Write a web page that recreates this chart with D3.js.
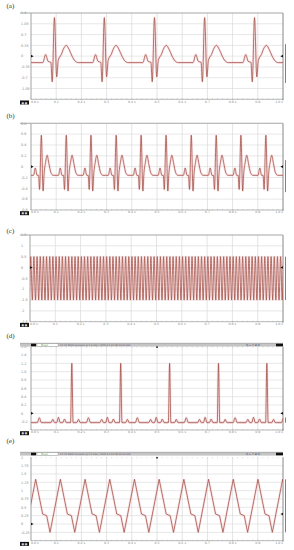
<!DOCTYPE html>
<html>
<head>
<meta charset="utf-8">
<script src="https://cdn.jsdelivr.net/npm/d3@7.9.0/dist/d3.min.js"></script>
<style>
  html, body { margin: 0; padding: 0; background: #fff; }
  svg { display: block; }
</style>
</head>
<body>
<svg id="chart" width="294" height="550"></svg>
<script>
// DATA (time in grid divisions, 0..10 across the screen)
const xLabels = ['0.0 s', '0.1', '0.2 s', '0.3', '0.4 s', '0.5', '0.6 s', '0.7', '0.8 s', '0.9', '1.0 s'];

// (a)
const aYTicks = ['1.4', '1.05', '0.7', '0.35', '0', '-0.35', '-0.7', '-1.05'];
const aBeats = [0.93, 2.91, 4.9, 6.89, 8.87];
const aBase = -0.21;
const aShape = [
  [-0.46, -0.21], [-0.35, 0.05], [-0.25, -0.17], [-0.14, -0.2],
  [-0.09, -0.83], [0, 1.25], [0.09, -0.67], [0.15, -0.14],
  [0.27, 0.05], [0.38, 0.27], [0.47, 0.35], [0.58, 0.22],
  [0.7, 0.0], [0.82, -0.16], [0.95, -0.21]
];

// (b)
const bYTicks = ['0.8', '0.6', '0.4', '0.2', '0', '-0.2', '-0.4', '-0.6', '-0.8'];
const bBeats = [0.41, 1.4, 2.38, 3.38, 4.37, 5.36, 6.36, 7.35, 8.33, 9.32];
const bBase = -0.16;
const bShape = [
  [-0.31, -0.16], [-0.24, -0.025], [-0.17, -0.16], [-0.11, -0.16],
  [-0.07, -0.42], [0, 0.58], [0.07, -0.45], [0.11, -0.13],
  [0.17, 0.08], [0.23, 0.21], [0.3, 0.06], [0.38, -0.11], [0.47, -0.16]
];

// (c)
const cYTicks = ['1.5', '1', '0.5', '0', '-0.5', '-1', '-1.5', '-2', '-2.5'];
const cPeaks = [-0.095,
  0.03, 0.155, 0.28, 0.405, 0.53, 0.655, 0.78, 0.905,
  1.03, 1.155, 1.28, 1.405, 1.53, 1.655, 1.78, 1.905,
  2.03, 2.155, 2.28, 2.405, 2.53, 2.655, 2.78, 2.905,
  3.03, 3.155, 3.28, 3.405, 3.53, 3.655, 3.78, 3.905,
  4.03, 4.155, 4.28, 4.405, 4.53, 4.655, 4.78, 4.905,
  5.03, 5.155, 5.28, 5.405, 5.53, 5.655, 5.78, 5.905,
  6.03, 6.155, 6.28, 6.405, 6.53, 6.655, 6.78, 6.905,
  7.03, 7.155, 7.28, 7.405, 7.53, 7.655, 7.78, 7.905,
  8.03, 8.155, 8.28, 8.405, 8.53, 8.655, 8.78, 8.905,
  9.03, 9.155, 9.28, 9.405, 9.53, 9.655, 9.78, 9.905, 10.03];
const cShape = [[0, 0.5], [0.0625, -1.5]];

// (d)
const dYTicks = ['1.6', '1.4', '1.2', '1.0', '0.8', '0.6', '0.4', '0.2', '0', '-0.2'];
const dBeats = [-0.33, 1.62, 3.56, 5.5, 7.44, 9.36];
const dBase = -0.224;
const dShape = [
  [-0.83, -0.224], [-0.755, -0.144], [-0.68, -0.224],
  [-0.6, -0.224], [-0.53, -0.096], [-0.46, -0.224],
  [-0.36, -0.224], [-0.29, -0.136], [-0.22, -0.224],
  [-0.05, -0.224], [0, 1.2], [0.05, -0.224],
  [0.195, -0.224], [0.265, -0.144], [0.335, -0.224],
  [0.58, -0.224], [0.66, -0.104], [0.74, -0.224]
];

// (e)
const eYTicks = ['2', '1.75', '1.5', '1.25', '1', '0.75', '0.5', '0.25', '0', '-0.25'];
const eBeats = [-0.795, 0.185, 1.166, 2.146, 3.126, 4.106, 5.086, 6.066, 7.046, 8.026, 9.007, 9.987, 10.97];
const eShape = [[0, 1.34], [0.278, 0.3], [0.437, 0.25], [0.57, -0.25]];

// LAYOUT
const panels = [
  { label: '(a)', ly: 8, top: 13, bottom: 99.3, left: 31, rows: 8, domain: [-1.4, 1.4],
    ticks: aYTicks, beats: aBeats, shape: aShape, base: aBase, curve: d3.curveMonotoneX,
    mark: 0, rmark: 0, rtrace: [0.39, -0.87] },
  { label: '(b)', ly: 118, top: 123.3, bottom: 210, left: 31, rows: 8, domain: [-0.8, 0.8],
    ticks: bYTicks, beats: bBeats, shape: bShape, base: bBase, curve: d3.curveMonotoneX,
    mark: 0, rmark: 0, rtrace: [0.12, -0.47] },
  { label: '(c)', ly: 232.5, top: 235, bottom: 321.7, left: 30, rows: 8, domain: [-2.5, 1.5],
    ticks: cYTicks, beats: cPeaks, shape: cShape, curve: d3.curveMonotoneX,
    mark: 0, rmark: 0, rtrace: [0.5, -1.5] },
  { label: '(d)', ly: 338, top: 346.7, bottom: 430, left: 31, rows: 10, domain: [-0.4, 1.6],
    ticks: dYTicks, beats: dBeats, shape: dShape, base: dBase, curve: d3.curveMonotoneX,
    mark: 0, rmark: 0, rtrace: [-0.1, -0.224], header: 343.3 },
  { label: '(e)', ly: 443, top: 457.3, bottom: 540.7, left: 31, rows: 10, domain: [-0.5, 2],
    ticks: eYTicks, beats: eBeats, shape: eShape, curve: d3.curveLinear,
    mark: 0, rmark: 0.3, rtrace: [1.34, -0.25], header: 452.3 }
];

const RIGHT = 283;
const svg = d3.select('#chart');

function tracePoints(beats, shape, base) {
  const pts = [];
  beats.forEach(b => shape.forEach(([dt, v]) => pts.push([b + dt, v])));
  pts.sort((p, q) => p[0] - q[0]);
  if (base !== undefined) {
    pts.unshift([-0.6, base]);
    pts.push([10.6, base]);
  }
  return pts;
}

function drawHeader(g, p, x) {
  const hy = p.header;
  g.append('rect').attr('x', 20).attr('y', hy).attr('width', RIGHT - 20).attr('height', 3.3)
    .attr('fill', '#c4c4c4');
  g.append('line').attr('x1', 20).attr('x2', RIGHT).attr('y1', hy).attr('y2', hy)
    .attr('stroke', '#8a8a8a').attr('stroke-width', 0.6);
  g.append('rect').attr('x', 31).attr('y', hy + 0.4).attr('width', 5).attr('height', 2.6).attr('fill', '#111');
  g.append('rect').attr('x', 37).attr('y', hy + 0.4).attr('width', 21).attr('height', 2.6)
    .attr('fill', '#fff').attr('stroke', '#7a7a7a').attr('stroke-width', 0.3);
  g.append('text').attr('x', 41).attr('y', hy + 2.5).text('Mean')
    .style('font-size', '2.6px').style('font-family', 'DejaVu Sans').attr('fill', '#4f9a4f');
  g.append('text').attr('x', 60).attr('y', hy + 2.5)
    .text('C1 C2  8000 samples @ 1.0 kHz | 2020-11-13 18:00:00.000')
    .style('font-size', '2.4px').style('font-family', 'DejaVu Sans').attr('fill', '#5a6070');
  g.append('text').attr('x', 246).attr('y', hy + 2.6).text('Q  ↔  ↕  ⊞  Q')
    .style('font-size', '2.6px').style('font-family', 'DejaVu Sans').attr('fill', '#3c4a78');
  g.append('rect').attr('x', 276).attr('y', hy + 0.4).attr('width', 7).attr('height', 2.6).attr('fill', '#111');
  // top minor ticks and trigger marker
  g.append('g').selectAll('line').data(d3.range(0, 10.01, 0.2)).join('line')
    .attr('x1', d => x(d)).attr('x2', d => x(d))
    .attr('y1', p.top).attr('y2', p.top + 0.9)
    .attr('stroke', '#999').attr('stroke-width', 0.4);
  g.append('rect').attr('x', x(5) - 0.8).attr('y', p.top - 0.4).attr('width', 1.6).attr('height', 1.6)
    .attr('fill', '#222');
}

function drawPanel(p, i) {
  const g = svg.append('g');
  const x = d3.scaleLinear().domain([0, 10]).range([p.left, RIGHT]);
  const y = d3.scaleLinear().domain(p.domain).range([p.bottom, p.top]);
  const gy = d3.scaleLinear().domain([0, p.rows]).range([p.bottom, p.top]);

  g.append('text').attr('x', 6.5).attr('y', p.ly).text(p.label)
    .style('font-family', 'Liberation Serif').style('font-size', '7px').attr('fill', '#333');

  // grid
  g.append('g').selectAll('line').data(d3.range(1, 10)).join('line')
    .attr('x1', d => x(d)).attr('x2', d => x(d))
    .attr('y1', p.top).attr('y2', p.bottom)
    .attr('stroke', '#d2d2d2').attr('stroke-width', 0.6);
  g.append('g').selectAll('line').data(d3.range(1, p.rows)).join('line')
    .attr('x1', p.left).attr('x2', RIGHT)
    .attr('y1', d => gy(d)).attr('y2', d => gy(d))
    .attr('stroke', '#d8d8d8').attr('stroke-width', 0.6);

  // y tick labels
  g.append('g').selectAll('text').data(p.ticks).join('text')
    .attr('x', 21).attr('y', d => y(+d) + 1.2)
    .text(d => d)
    .style('font-size', '3.4px').style('font-family', 'DejaVu Sans').attr('fill', '#888');

  // bottom minor ticks and x labels
  g.append('g').selectAll('line').data(d3.range(0, 10.01, 0.2)).join('line')
    .attr('x1', d => x(d)).attr('x2', d => x(d))
    .attr('y1', p.bottom - 1).attr('y2', p.bottom)
    .attr('stroke', '#9a9a9a').attr('stroke-width', 0.4);
  g.append('g').selectAll('text').data(xLabels).join('text')
    .attr('x', (d, j) => x(j))
    .attr('y', p.bottom + 3.3)
    .attr('text-anchor', (d, j) => j === 0 ? 'start' : (j === 10 ? 'end' : 'middle'))
    .text(d => d)
    .style('font-size', '3.2px').style('font-family', 'DejaVu Sans').attr('fill', '#888');
  g.append('rect').attr('x', 20).attr('y', p.bottom + 1.2).attr('width', 9).attr('height', 4)
    .attr('fill', '#111');
  g.append('text').attr('x', 21.5).attr('y', p.bottom + 4.2).text('■ ■')
    .style('font-size', '2.6px').style('font-family', 'DejaVu Sans').attr('fill', '#ddd');

  // frame
  g.append('line').attr('x1', p.left).attr('x2', RIGHT).attr('y1', p.bottom).attr('y2', p.bottom)
    .attr('stroke', '#9a9a9a').attr('stroke-width', 0.7);
  g.append('line').attr('x1', p.left).attr('x2', p.left).attr('y1', p.top).attr('y2', p.bottom)
    .attr('stroke', '#8c8c8c').attr('stroke-width', 0.8);
  g.append('line').attr('x1', RIGHT).attr('x2', RIGHT).attr('y1', p.top).attr('y2', p.bottom + 1)
    .attr('stroke', '#6a6a6a').attr('stroke-width', 0.8);
  if (p.header) {
    drawHeader(g, p, x);
  } else {
    g.append('line').attr('x1', 20).attr('x2', RIGHT).attr('y1', p.top).attr('y2', p.top)
      .attr('stroke', '#a6a6a6').attr('stroke-width', 1.1);
  }

  // trace
  const clipId = 'clip' + i;
  svg.append('clipPath').attr('id', clipId).append('rect')
    .attr('x', p.left).attr('y', p.top - 2).attr('width', RIGHT - p.left).attr('height', p.bottom - p.top + 2);
  const pts = tracePoints(p.beats, p.shape, p.base);
  const line = d3.line().x(d => x(d[0])).y(d => y(d[1])).curve(p.curve);
  const tg = g.append('g').attr('clip-path', `url(#${clipId})`);
  tg.append('path').attr('d', line(pts)).attr('fill', 'none')
    .attr('stroke', '#f5bcc6').attr('stroke-width', 2.6).attr('stroke-opacity', 0.35);
  tg.append('path').attr('d', line(pts)).attr('fill', 'none')
    .attr('stroke', '#9e4a3e').attr('stroke-width', 0.75);

  // level markers
  const ml = y(p.mark), mr = y(p.rmark);
  g.append('path').attr('d', `M${p.left},${ml - 1.3}L${p.left + 2.6},${ml}L${p.left},${ml + 1.3}Z`)
    .attr('fill', '#111');
  g.append('path').attr('d', `M${RIGHT},${mr - 1.3}L${RIGHT - 2.6},${mr}L${RIGHT},${mr + 1.3}Z`)
    .attr('fill', '#111');
  g.append('line').attr('x1', RIGHT + 2.5).attr('x2', RIGHT + 2.5)
    .attr('y1', y(p.rtrace[0])).attr('y2', y(p.rtrace[1]))
    .attr('stroke', '#9e4a3e').attr('stroke-width', 0.8);
}

panels.forEach(drawPanel);
</script>
</body>
</html>
